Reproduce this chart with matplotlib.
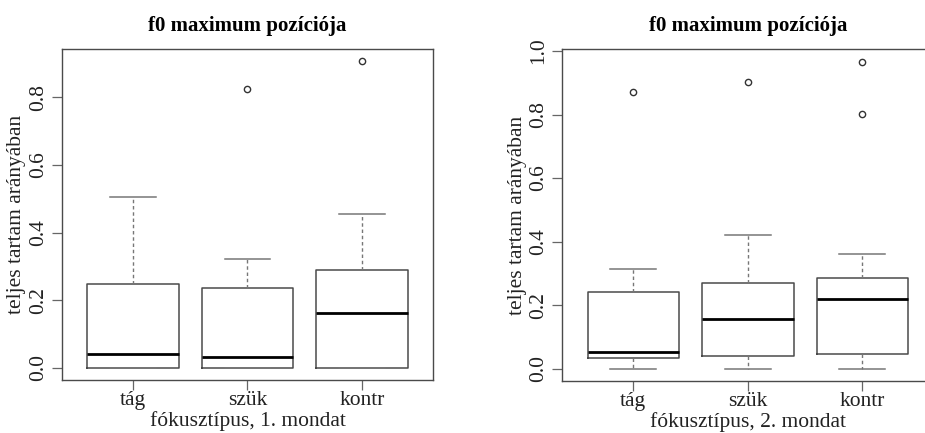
"""Two R-style boxplots of f0 maximum position, first and second sentence."""
import matplotlib
matplotlib.use('Agg')
import matplotlib.pyplot as plt

CATEGORIES = ['tág', 'szük', 'kontr']

# sentence 1: (whislo, q1, med, q3, whishi), outliers
S1_STATS = [(0.0, 0.0, 0.041, 0.247, 0.506),
            (0.0, 0.0, 0.033, 0.235, 0.323),
            (0.0, 0.0, 0.163, 0.288, 0.456)]
S1_FLIERS = [[], [0.826], [0.907]]

# sentence 2
S2_STATS = [(0.0, 0.034, 0.054, 0.242, 0.314),
            (0.0, 0.040, 0.158, 0.269, 0.422),
            (0.0, 0.046, 0.218, 0.286, 0.361)]
S2_FLIERS = [[0.870], [0.902], [0.966, 0.801]]

Y_TICKS_1 = [0.0, 0.2, 0.4, 0.6, 0.8]
Y_TICKS_2 = [0.0, 0.2, 0.4, 0.6, 0.8, 1.0]

TITLE = 'f0 maximum pozíciója'
YLABEL = 'teljes tartam arányában'
XLABELS = ['fókusztípus, 1. mondat', 'fókusztípus, 2. mondat']

plt.rcParams['font.family'] = ['Liberation Serif', 'DejaVu Serif']
EDGE = '#4a4a4a'
FS = 15.5


def draw(ax, stats, fliers, yticks, ylim, xlabel):
    data = []
    for (lo, q1, med, q3, hi), fl in zip(stats, fliers):
        data.append(dict(whislo=lo, q1=q1, med=med, q3=q3, whishi=hi, fliers=fl))
    ax.bxp(data, positions=[1, 2, 3], widths=0.8, patch_artist=False,
           boxprops=dict(color=EDGE, linewidth=1.1),
           medianprops=dict(color='black', linewidth=2.0),
           whiskerprops=dict(color='#777777', linewidth=1.0, linestyle=(0, (2.5, 2))),
           capprops=dict(color='#777777', linewidth=1.1),
           capwidths=0.4,
           flierprops=dict(marker='o', markersize=4.5, markerfacecolor='none',
                           markeredgecolor='#333333', markeredgewidth=1.0))
    ax.set_xlim(0.38, 3.62)
    ax.set_ylim(*ylim)
    ax.set_xticks([1, 2, 3])
    ax.set_xticklabels(CATEGORIES, fontsize=FS, color='#222222')
    ax.set_yticks(yticks)
    ax.set_yticklabels([f'{v:.1f}' for v in yticks], rotation=90, va='center',
                       fontsize=FS, color='#222222')
    for sp in ax.spines.values():
        sp.set_color(EDGE)
        sp.set_linewidth(1.0)
    ax.tick_params(axis='both', length=7, width=0.9, color='#666666', pad=3)
    ax.tick_params(axis='x', pad=1)
    ax.set_title(TITLE, fontsize=15, fontweight='bold', pad=13)
    ax.set_xlabel(xlabel, fontsize=FS, labelpad=1, color='#222222')
    ax.set_ylabel(YLABEL, fontsize=FS, labelpad=2, color='#222222')


fig = plt.figure(figsize=(9.25, 4.33), dpi=100)
ax1 = fig.add_axes([0.0670, 0.1224, 0.4011, 0.7644])
ax2 = fig.add_axes([0.6079, 0.1201, 0.4012, 0.7660])

draw(ax1, S1_STATS, S1_FLIERS, Y_TICKS_1, (-0.0364, 0.9434), XLABELS[0])
draw(ax2, S2_STATS, S2_FLIERS, Y_TICKS_2, (-0.0387, 1.0054), XLABELS[1])

fig.savefig('out.png', dpi=100)
